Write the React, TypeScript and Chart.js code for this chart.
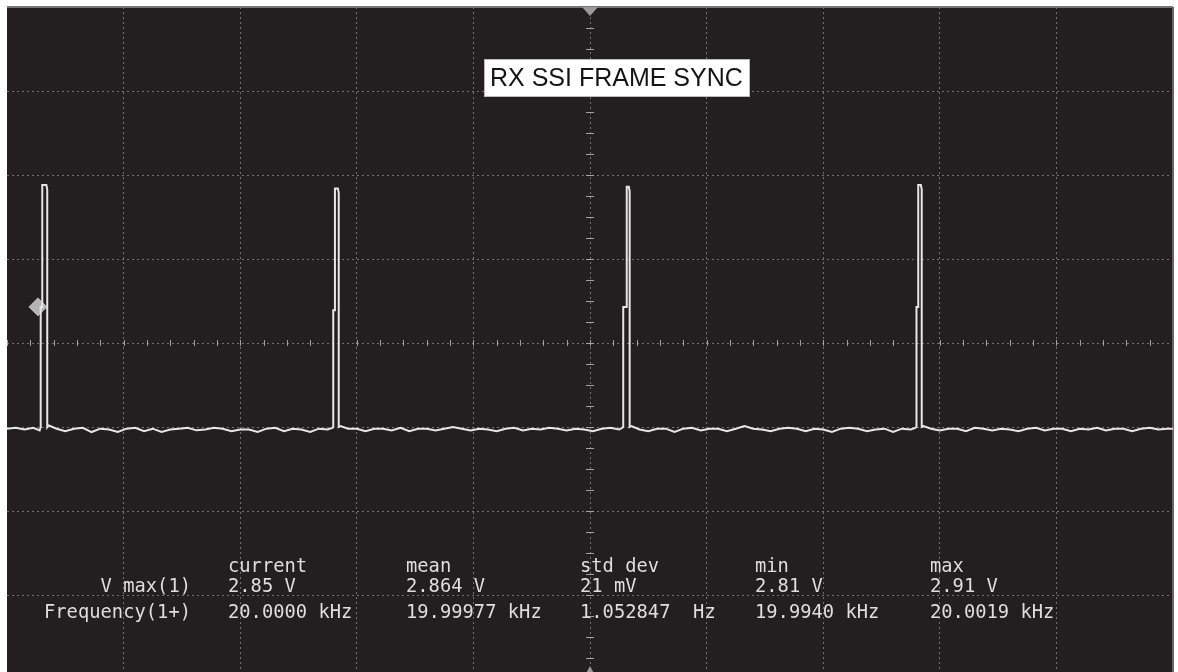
import React, { useEffect, useRef } from "react";
import { Chart, registerables } from "chart.js";

Chart.register(...registerables);

// ---- scope settings (time in µs, voltage in V) ----
const TIME_MIN = 0;
const TIME_MAX = 200; // 20 µs/div, 10 div
const VOLT_MIN = -3;
const VOLT_MAX = 5; // 1 V/div, 8 div
const TIME_DIV = 20;
const VOLT_DIV = 1;

// ---- frame-sync pulses ----
const pulseRise = [5.78, 55.96, 105.7, 156.0];
const pulseStep = [6.05, 56.25, 106.3, 156.3];
const pulseFall = [6.9, 56.9, 106.8, 156.9];
const pulseTop = [2.88, 2.84, 2.86, 2.88];
const pulseStepLevel = [1.43, 1.39, 1.43, 1.43];

// ---- baseline trace between pulses ----
const baseline: [number, number][] = [
  [0, -0.02], [1.5, -0.01], [3, -0.03], [4.5, -0.01], [5.6, -0.04],
  [7.1, 0.02], [8.5, -0.02], [10, -0.05], [11.5, -0.02], [13, -0.01], [14.5, -0.06], [16, -0.02],
  [17.5, -0.03], [19, -0.06], [20.5, -0.02], [22, -0.01], [23.5, -0.05], [25, -0.02], [26.5, -0.06],
  [28, -0.03], [29.5, -0.02], [31, -0.01], [32.5, -0.04], [34, -0.03], [35.5, -0.01], [37, -0.02],
  [38.5, -0.05], [40, -0.03], [41.5, -0.03], [43, -0.06], [44.5, -0.02], [46, -0.01], [47.5, -0.05],
  [49, -0.02], [50.5, -0.03], [52, -0.06], [53.5, -0.02], [55, -0.03], [55.8, -0.01],
  [57.2, 0.01], [58.5, -0.02], [60, -0.02], [61.5, -0.05], [63, -0.02], [64.5, -0.02], [66, -0.04],
  [67.5, -0.01], [69, -0.05], [70.5, -0.02], [72, -0.02], [73.5, -0.04], [75, -0.02], [76.5, 0.0],
  [78, -0.02], [79.5, -0.04], [81, -0.02], [82.5, -0.03], [84, -0.05], [85.5, -0.02], [87, -0.01],
  [88.5, -0.04], [90, -0.02], [91.5, -0.03], [93, -0.01], [94.5, -0.02], [96, -0.04], [97.5, -0.02],
  [99, -0.03], [100.5, -0.05], [102, -0.02], [103.5, -0.01], [105, -0.03], [105.5, -0.01],
  [107.1, 0.01], [108.5, -0.03], [110, -0.05], [111.5, -0.02], [113, -0.02], [114.5, -0.06], [116, -0.02],
  [117.5, -0.01], [119, -0.04], [120.5, -0.02], [122, -0.02], [123.5, -0.05], [125, -0.02], [126.5, 0.01],
  [128, -0.02], [129.5, -0.03], [131, -0.05], [132.5, -0.02], [134, -0.01], [135.5, -0.02], [137, -0.05],
  [138.5, -0.02], [140, -0.03], [141.5, -0.06], [143, -0.02], [144.5, -0.01], [146, -0.02], [147.5, -0.05],
  [149, -0.03], [150.5, -0.02], [152, -0.06], [153.5, -0.02], [155, -0.03], [155.8, -0.01],
  [157.2, 0.01], [158.5, -0.02], [160, -0.04], [161.5, -0.02], [163, -0.02], [164.5, -0.05], [166, -0.01],
  [167.5, -0.02], [169, -0.04], [170.5, -0.02], [172, -0.03], [173.5, -0.05], [175, -0.02], [176.5, -0.01],
  [178, -0.04], [179.5, -0.02], [181, -0.02], [182.5, -0.05], [184, -0.02], [185.5, -0.03], [187, -0.01],
  [188.5, -0.04], [190, -0.02], [191.5, -0.02], [193, -0.05], [194.5, -0.02], [196, -0.01], [197.5, -0.03],
  [199, -0.02], [200, -0.02],
];

// ---- trigger level marker ----
const triggerTime = 5.3;
const triggerLevel = 1.43;

// ---- waveform label and measurement table ----
const traceLabel = "RX SSI FRAME SYNC";
const statHeaders = ["current", "mean", "std dev", "min", "max"];
const vmaxLabel = "V max(1)";
const vmaxValues = ["2.85 V", "2.864 V", "21 mV", "2.81 V", "2.91 V"];
const freqLabel = "Frequency(1+)";
const freqValues = ["20.0000 kHz", "19.99977 kHz", "1.052847  Hz", "19.9940 kHz", "20.0019 kHz"];

function buildTrace() {
  const pts: { x: number; y: number }[] = baseline.map(([x, y]) => ({ x, y }));
  for (let i = 0; i < pulseRise.length; i++) {
    const base = 0.0;
    pts.push({ x: pulseRise[i], y: base });
    pts.push({ x: pulseRise[i] + 0.001, y: pulseStepLevel[i] });
    pts.push({ x: pulseStep[i], y: pulseStepLevel[i] });
    pts.push({ x: pulseStep[i] + 0.001, y: pulseTop[i] });
    pts.push({ x: pulseFall[i] - 0.15, y: pulseTop[i] });
    pts.push({ x: pulseFall[i], y: pulseTop[i] - 0.05 });
    pts.push({ x: pulseFall[i] + 0.001, y: base });
  }
  pts.sort((a, b) => a.x - b.x);
  return pts;
}

const BG = "#231f20";
const GRID = "rgba(150,150,150,0.7)";
const TICK = "rgba(175,175,175,0.9)";
const TEXT = "#dedede";

const scopePlugin = {
  id: "scope",
  beforeDraw(chart: any) {
    const { ctx, chartArea: a } = chart;
    ctx.save();
    ctx.fillStyle = "#ffffff";
    ctx.fillRect(0, 0, chart.width, chart.height);
    ctx.fillStyle = BG;
    ctx.fillRect(a.left, a.top, a.right - a.left, a.bottom - a.top);
    ctx.restore();
  },
  beforeDatasetsDraw(chart: any) {
    const { ctx, chartArea: a, scales } = chart;
    const xs = scales.x;
    const ys = scales.y;
    const xc = xs.getPixelForValue((TIME_MIN + TIME_MAX) / 2);
    const yc = ys.getPixelForValue((VOLT_MIN + VOLT_MAX) / 2);
    ctx.save();
    ctx.strokeStyle = TICK;
    ctx.lineWidth = 1;
    // minor ticks on the centre horizontal line (5 per division)
    for (let t = TIME_MIN; t <= TIME_MAX; t += TIME_DIV / 5) {
      const x = Math.round(xs.getPixelForValue(t)) + 0.5;
      ctx.beginPath();
      ctx.moveTo(x, yc - 3);
      ctx.lineTo(x, yc + 3);
      ctx.stroke();
    }
    // minor ticks on the centre vertical line (4 per division)
    for (let v = VOLT_MIN; v <= VOLT_MAX; v += VOLT_DIV / 4) {
      const y = Math.round(ys.getPixelForValue(v)) + 0.5;
      ctx.beginPath();
      ctx.moveTo(xc - 4, y);
      ctx.lineTo(xc + 4, y);
      ctx.stroke();
    }
    // frame borders (top and right)
    ctx.strokeStyle = "#777777";
    ctx.lineWidth = 2;
    ctx.beginPath();
    ctx.moveTo(a.left, a.top);
    ctx.lineTo(a.right, a.top);
    ctx.stroke();
    ctx.strokeStyle = "#666666";
    ctx.beginPath();
    ctx.moveTo(a.right, a.top);
    ctx.lineTo(a.right, a.bottom);
    ctx.stroke();
    // trigger position markers
    ctx.fillStyle = "#9a9a9a";
    ctx.beginPath();
    ctx.moveTo(xc - 8, a.top);
    ctx.lineTo(xc + 8, a.top);
    ctx.lineTo(xc, a.top + 9);
    ctx.closePath();
    ctx.fill();
    ctx.beginPath();
    ctx.moveTo(xc - 7, a.bottom);
    ctx.lineTo(xc + 7, a.bottom);
    ctx.lineTo(xc, a.bottom - 13);
    ctx.closePath();
    ctx.fill();
    ctx.restore();
  },
  afterDatasetsDraw(chart: any) {
    const { ctx, chartArea: a } = chart;
    ctx.save();
    // waveform label box
    const bx = a.left + 477;
    const by = a.top + 52;
    ctx.fillStyle = "#ffffff";
    ctx.fillRect(bx, by, 266, 38);
    ctx.strokeStyle = "#bbbbbb";
    ctx.lineWidth = 1;
    ctx.strokeRect(bx + 0.5, by + 0.5, 265, 37);
    ctx.fillStyle = "#151515";
    ctx.font = '25px "Liberation Sans", Arial, sans-serif';
    ctx.textBaseline = "alphabetic";
    ctx.textAlign = "left";
    ctx.fillText(traceLabel, bx + 6, by + 27, 256);

    // measurement table
    ctx.fillStyle = TEXT;
    ctx.font = '18.8px "DejaVu Sans Mono", monospace';
    const colX = [228, 406, 580, 755, 930];
    const rowY = [572, 592, 618];
    const drawRow = (txt: string, x: number, y: number, align: CanvasTextAlign) => {
      ctx.save();
      ctx.translate(x, y);
      ctx.scale(1, 1.08);
      ctx.textAlign = align;
      ctx.fillText(txt, 0, 0);
      ctx.restore();
    };
    statHeaders.forEach((h, i) => drawRow(h, colX[i], rowY[0], "left"));
    drawRow(vmaxLabel, 191, rowY[1], "right");
    vmaxValues.forEach((v, i) => drawRow(v, colX[i], rowY[1], "left"));
    drawRow(freqLabel, 191, rowY[2], "right");
    freqValues.forEach((v, i) => drawRow(v, colX[i], rowY[2], "left"));
    ctx.restore();
  },
};

export default function App() {
  const ref = useRef<HTMLCanvasElement | null>(null);
  useEffect(() => {
    if (!ref.current) return;
    const gridColor = (c: any, min: number, max: number) =>
      c.tick && (c.tick.value === min || c.tick.value === max) ? "rgba(0,0,0,0)" : GRID;
    const chart = new Chart(ref.current, {
      type: "line",
      data: {
        datasets: [
          {
            label: "trace",
            data: buildTrace(),
            borderColor: "#e6e6e6",
            borderWidth: 2,
            pointRadius: 0,
            tension: 0,
            fill: false,
          },
          {
            label: "trigger",
            data: [{ x: triggerTime, y: triggerLevel }],
            showLine: false,
            pointStyle: "rectRot",
            pointRadius: 9,
            backgroundColor: "#b4b4b4",
            borderColor: "#b4b4b4",
            borderWidth: 1,
          },
        ],
      },
      options: {
        animation: false,
        responsive: false,
        maintainAspectRatio: false,
        devicePixelRatio: 1,
        parsing: false,
        normalized: true,
        events: [],
        layout: { autoPadding: false, padding: { left: 7, top: 7, right: 5, bottom: 1 } },
        plugins: { legend: { display: false }, tooltip: { enabled: false } },
        scales: {
          x: {
            type: "linear",
            min: TIME_MIN,
            max: TIME_MAX,
            ticks: { display: false, stepSize: TIME_DIV },
            grid: {
              drawTicks: false,
              color: (c: any) => gridColor(c, TIME_MIN, TIME_MAX),
              lineWidth: 1,
            },
            border: { display: false, dash: [2, 3] },
          },
          y: {
            type: "linear",
            min: VOLT_MIN,
            max: VOLT_MAX,
            ticks: { display: false, stepSize: VOLT_DIV },
            grid: {
              drawTicks: false,
              color: (c: any) => gridColor(c, VOLT_MIN, VOLT_MAX),
              lineWidth: 1,
            },
            border: { display: false, dash: [2, 3] },
          },
        },
      },
      plugins: [scopePlugin],
    } as any);
    return () => chart.destroy();
  }, []);
  return (
    <div style={{ position: "fixed", left: 0, top: 0, width: 1178, height: 680 }}>
      <canvas ref={ref} width={1178} height={680} style={{ display: "block", width: 1178, height: 680 }} />
    </div>
  );
}
